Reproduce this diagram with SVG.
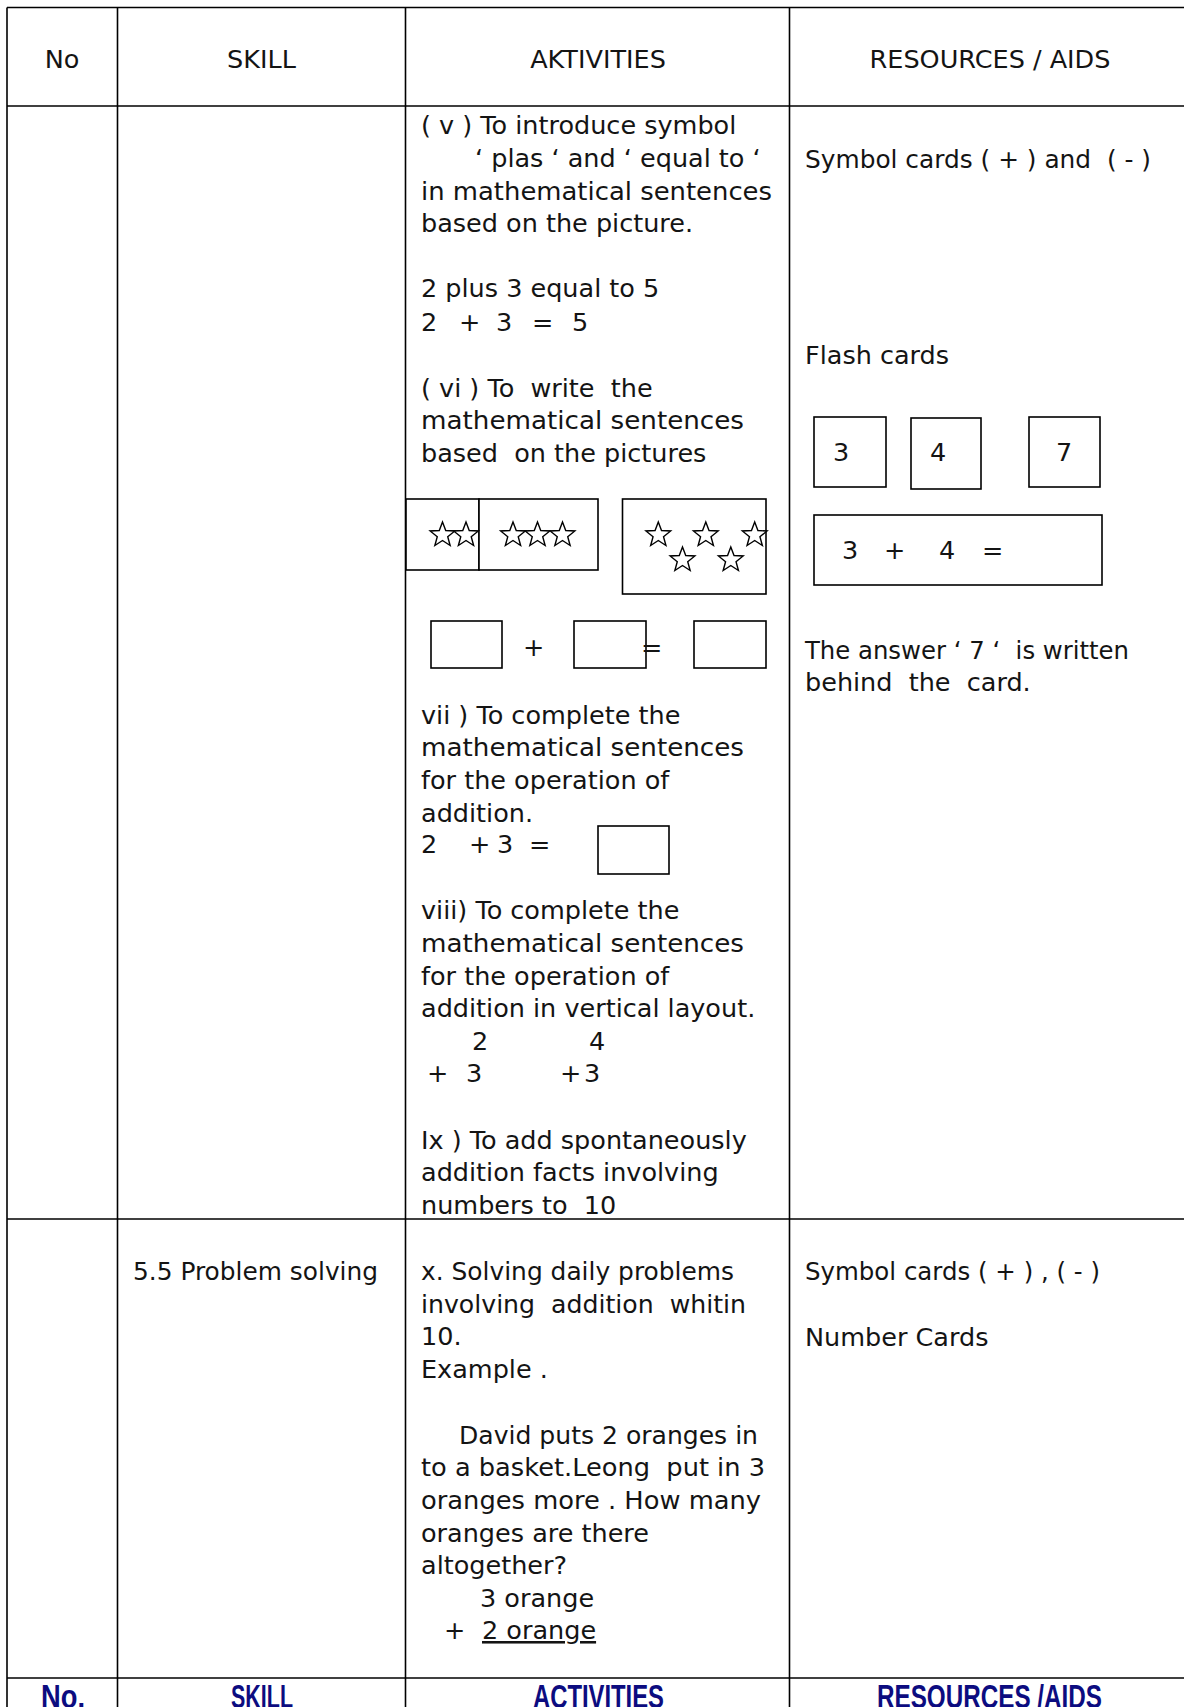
<svg xmlns="http://www.w3.org/2000/svg" width="1184" height="1707" viewBox="0 0 1184 1707">
<style>
text{font-family:"DejaVu Sans",sans-serif;font-size:25.5px;fill:#141414;white-space:pre}
.ln{stroke:#000;stroke-width:1.6;fill:none}
.bx{stroke:#000;stroke-width:1.6;fill:#fff}
.mid{text-anchor:middle}
.ft{font-family:"Liberation Sans",sans-serif;font-weight:bold;font-size:34px;fill:#0c0c80}
.ul{text-decoration:underline}
</style>
<defs>
<path id="star" d="M0,-13 L3.23,-4.45 L12.36,-4.02 L5.23,1.7 L7.64,10.52 L0,5.5 L-7.64,10.52 L-5.23,1.7 L-12.36,-4.02 L-3.23,-4.45Z" fill="#fff" stroke="#000" stroke-width="1.4" stroke-linejoin="miter"/>
</defs>
<rect width="1184" height="1707" fill="#fff"/>

<g id="grid">
<line class="ln" x1="7" y1="7.5" x2="1184" y2="7.5"/>
<line class="ln" x1="7" y1="106" x2="1184" y2="106"/>
<line class="ln" x1="7" y1="1219" x2="1184" y2="1219"/>
<line class="ln" x1="7" y1="1678" x2="1184" y2="1678"/>
<line class="ln" x1="7" y1="7.5" x2="7" y2="1707"/>
<line class="ln" x1="117.5" y1="7.5" x2="117.5" y2="1707"/>
<line class="ln" x1="405.5" y1="7.5" x2="405.5" y2="1707"/>
<line class="ln" x1="789.5" y1="7.5" x2="789.5" y2="1707"/>
</g>

<g id="header">
<text class="mid" x="62" y="68">No</text>
<text class="mid" x="261.5" y="68">SKILL</text>
<text class="mid" x="598" y="68">AKTIVITIES</text>
<text class="mid" x="990" y="68">RESOURCES / AIDS</text>
</g>

<g id="row1-activities">
<text x="421" y="134">( v ) To introduce symbol</text>
<text x="475" y="167">‘ plas ‘ and ‘ equal to ‘</text>
<text x="421" y="200" textLength="351" lengthAdjust="spacingAndGlyphs">in mathematical sentences</text>
<text x="421" y="232">based on the picture.</text>
<text x="421" y="297">2 plus 3 equal to 5</text>
<text x="421" y="331">2</text><text x="459" y="331">+</text><text x="496" y="331">3</text><text x="532" y="331">=</text><text x="572" y="331">5</text>
<text x="421" y="397">( vi ) To  write  the</text>
<text x="421" y="429" textLength="323" lengthAdjust="spacingAndGlyphs">mathematical sentences</text>
<text x="421" y="462">based  on the pictures</text>

<g id="stars-a">
<rect class="bx" x="406" y="499" width="73" height="71"/>
<rect class="bx" x="479" y="499" width="119" height="71"/>
<use href="#star" x="442.5" y="535"/>
<use href="#star" x="466" y="535"/>
<use href="#star" x="513" y="535"/>
<use href="#star" x="537.5" y="535"/>
<use href="#star" x="562.5" y="535"/>
</g>
<g id="stars-b">
<rect class="bx" x="622.5" y="499" width="143.5" height="95"/>
<use href="#star" x="658.3" y="535"/>
<use href="#star" x="705.8" y="535"/>
<use href="#star" x="754.7" y="535"/>
<use href="#star" x="682.5" y="560"/>
<use href="#star" x="730.8" y="560"/>
</g>
<g id="blanks">
<rect class="bx" x="431" y="621" width="71" height="47"/>
<text x="523" y="656">+</text>
<rect class="bx" x="574" y="621" width="72" height="47"/>
<text x="641" y="656">=</text>
<rect class="bx" x="694" y="621" width="72" height="47"/>
</g>

<text x="421" y="724">vii ) To complete the</text>
<text x="421" y="756" textLength="323" lengthAdjust="spacingAndGlyphs">mathematical sentences</text>
<text x="421" y="789">for the operation of</text>
<text x="421" y="822">addition.</text>
<text x="421" y="853">2</text><text x="469" y="853">+</text><text x="497" y="853">3</text><text x="529" y="853">=</text>
<rect class="bx" x="598" y="826" width="71" height="48"/>

<text x="421" y="919">viii) To complete the</text>
<text x="421" y="952" textLength="323" lengthAdjust="spacingAndGlyphs">mathematical sentences</text>
<text x="421" y="985">for the operation of</text>
<text x="421" y="1017">addition in vertical layout.</text>
<text x="472" y="1050">2</text><text x="589" y="1050">4</text>
<text x="427" y="1082">+</text><text x="466" y="1082">3</text><text x="560" y="1082">+</text><text x="584" y="1082">3</text>

<text x="421" y="1149">Ix ) To add spontaneously</text>
<text x="421" y="1181">addition facts involving</text>
<text x="421" y="1214">numbers to  10</text>
</g>

<g id="row1-resources">
<text x="805" y="168" textLength="346" lengthAdjust="spacingAndGlyphs">Symbol cards ( + ) and  ( - )</text>
<text x="805" y="364">Flash cards</text>
<rect class="bx" x="814" y="417" width="72" height="70"/>
<rect class="bx" x="911" y="418" width="70" height="71"/>
<rect class="bx" x="1029" y="417" width="71" height="70"/>
<text x="833" y="461">3</text>
<text x="930" y="461">4</text>
<text x="1056" y="461">7</text>
<rect class="bx" x="814" y="515" width="288" height="70"/>
<text x="842" y="559">3</text>
<text x="884" y="559">+</text>
<text x="939" y="559">4</text>
<text x="982" y="559">=</text>
<text x="805" y="659" textLength="324" lengthAdjust="spacingAndGlyphs">The answer ‘ 7 ‘  is written</text>
<text x="805" y="691">behind  the  card.</text>
</g>

<g id="row2-skill">
<text x="133" y="1280" textLength="245" lengthAdjust="spacingAndGlyphs">5.5 Problem solving</text>
</g>

<g id="row2-activities">
<text x="421" y="1280" textLength="313" lengthAdjust="spacingAndGlyphs">x. Solving daily problems</text>
<text x="421" y="1313" textLength="325" lengthAdjust="spacingAndGlyphs">involving  addition  whitin</text>
<text x="421" y="1345">10.</text>
<text x="421" y="1378">Example .</text>
<text x="459" y="1444" textLength="299" lengthAdjust="spacingAndGlyphs">David puts 2 oranges in</text>
<text x="421" y="1476" textLength="344" lengthAdjust="spacingAndGlyphs">to a basket.Leong  put in 3</text>
<text x="421" y="1509" textLength="340" lengthAdjust="spacingAndGlyphs">oranges more . How many</text>
<text x="421" y="1542">oranges are there</text>
<text x="421" y="1574">altogether?</text>
<text x="480" y="1607">3 orange</text>
<text x="444" y="1639">+</text>
<text x="482" y="1639" class="ul">2 orange</text>
</g>

<g id="row2-resources">
<text x="805" y="1280" textLength="295" lengthAdjust="spacingAndGlyphs">Symbol cards ( + ) , ( - )</text>
<text x="805" y="1346">Number Cards</text>
</g>

<g id="footer">
<text class="ft" x="41" y="1708" textLength="44" lengthAdjust="spacingAndGlyphs">No.</text>
<text class="ft" x="231" y="1708" textLength="62" lengthAdjust="spacingAndGlyphs">SKILL</text>
<text class="ft" x="533" y="1708" textLength="131" lengthAdjust="spacingAndGlyphs">ACTIVITIES</text>
<text class="ft" x="877" y="1708" textLength="225" lengthAdjust="spacingAndGlyphs">RESOURCES /AIDS</text>
</g>
</svg>
